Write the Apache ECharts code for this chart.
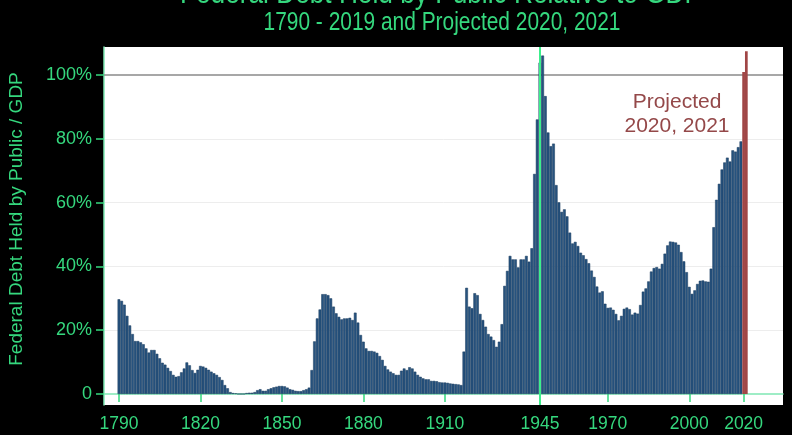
<!DOCTYPE html>
<html><head><meta charset="utf-8">
<script src="https://cdn.jsdelivr.net/npm/echarts@6/dist/echarts.min.js"></script>
<style>html,body{margin:0;padding:0;background:#000}#c{width:792px;height:435px}</style>
</head><body><div id="c"></div>
<script>
// ---- data (percent of GDP) ----
const firstYear = 1790;
const debtPct = [
  29.7, 29.2, 28.0, 24.5, 21.5, 18.8, 16.6, 16.6, 16.2, 15.6,
  14.3, 13.0, 13.8, 13.8, 12.6, 11.2, 9.8, 9.2, 8.2, 7.2,
  6.0, 5.4, 5.6, 6.8, 8.0, 9.9, 9.0, 7.5, 6.6, 7.6,
  8.8, 8.6, 8.2, 7.6, 7.0, 6.5, 6.0, 5.3, 4.4, 2.8,
  1.8, 0.6, 0.3, 0.2, 0, 0, 0, 0.3, 0.4, 0.4,
  0.6, 1.2, 1.5, 1.0, 1.0, 1.5, 1.8, 2.1, 2.3, 2.5,
  2.5, 2.4, 2.0, 1.5, 1.3, 1.0, 0.9, 0.9, 1.2, 1.5,
  2.0, 7.5, 16.5, 23.7, 26.5, 31.3, 31.3, 31.0, 30.0, 27.4,
  25.3, 24.2, 23.4, 23.7, 23.7, 23.9, 23.2, 25.5, 22.4, 18.5,
  16.4, 14.3, 13.5, 13.5, 13.3, 12.9, 11.9, 10.7, 8.8, 7.7,
  7.0, 6.5, 6.0, 6.0, 7.3, 8.0, 7.5, 8.4, 8.0, 7.0,
  6.0, 5.4, 4.9, 4.6, 4.6, 4.1, 4.1, 4.0, 3.7, 3.6,
  3.6, 3.5, 3.3, 3.2, 3.1, 3.0, 2.8, 13.3, 33.3, 27.4,
  26.9, 31.6, 31.0, 25.1, 23.2, 21.1, 18.8, 18.0, 16.9, 14.8,
  16.4, 21.9, 33.9, 38.6, 43.3, 42.2, 42.2, 39.7, 42.2, 42.2,
  43.3, 41.5, 45.7, 69.0, 86.1, 103.9, 106.1, 93.4, 82.0, 77.7,
  78.5, 65.5, 60.1, 57.1, 57.9, 55.7, 50.6, 47.2, 47.7, 46.4,
  44.3, 43.5, 42.3, 41.0, 38.7, 36.7, 33.7, 31.8, 32.2, 28.3,
  27.0, 27.1, 26.4, 25.1, 23.1, 24.5, 26.7, 27.1, 26.6, 24.9,
  25.5, 25.2, 27.9, 32.1, 33.1, 35.3, 38.4, 39.5, 39.8, 39.3,
  40.8, 44.0, 46.6, 47.8, 47.7, 47.5, 46.8, 44.5, 41.6, 38.2,
  33.6, 31.4, 32.5, 34.5, 35.5, 35.6, 35.3, 35.2, 39.3, 52.3,
  60.9, 65.9, 70.4, 72.6, 74.1, 72.9, 76.4, 76.0, 77.4, 79.2
];
const projYears = [2020, 2021];
const projPct = [101.0, 107.5];
const axisFirstYear = 1785;
const axisLastYear = 2034;
const xTickYears = [1790, 1820, 1850, 1880, 1910, 1945, 1970, 2000, 2020];
const yTickValues = [0, 20, 40, 60, 80, 100];
const markYear = 1945;
const refLevel = 100;

// ---- build ----
const categories = [];
for (let y = axisFirstYear; y <= axisLastYear; y++) categories.push(String(y));
const actualData = categories.map(c => {
  const i = +c - firstYear;
  return (i >= 0 && i < debtPct.length) ? debtPct[i] : '-';
});
const projData = categories.map(c => {
  const i = projYears.indexOf(+c);
  return i >= 0 ? projPct[i] : '-';
});
const tickSet = new Set(xTickYears.map(String));
const GREEN = '#35d87e';
const AXIS = '#7fe8b4';
const SANS = "'Liberation Sans',Arial,sans-serif";

const chart = echarts.init(document.getElementById('c'), null, {renderer: 'canvas'});
chart.setOption({
  backgroundColor: '#000',
  animation: false,
  grid: {left: 104, right: 9, top: 47, bottom: 30, show: true, backgroundColor: '#ffffff', borderWidth: 0,
    containLabel: false, outerBoundsMode: 'none'},
  xAxis: {
    type: 'category',
    data: categories,
    boundaryGap: true,
    axisLine: {lineStyle: {color: AXIS, width: 1.5}},
    axisTick: {show: true, alignWithLabel: true, length: 8, interval: (i, v) => tickSet.has(v), lineStyle: {color: GREEN, width: 1.5}},
    axisLabel: {interval: (i, v) => tickSet.has(v), color: GREEN, fontSize: 17.5, fontFamily: SANS, margin: 10},
    splitLine: {show: false}
  },
  yAxis: {
    type: 'value',
    min: -3.45,
    max: 108.8,
    axisLine: {show: true, lineStyle: {color: AXIS, width: 1.5}},
    axisTick: {show: true, length: 8, customValues: yTickValues, lineStyle: {color: GREEN, width: 1.5}},
    axisLabel: {customValues: yTickValues, color: GREEN, fontSize: 18, fontFamily: SANS, margin: 12,
      formatter: v => v === 0 ? '0' : v + '%'},
    splitLine: {show: true, showMinLine: false, showMaxLine: false, lineStyle: {color: '#ededed', width: 1}}
  },
  series: [
    {
      type: 'bar', name: 'Actual', data: actualData,
      barCategoryGap: '0%', barGap: '-100%', z: 2,
      itemStyle: {color: '#27537f', borderColor: '#183a5c', borderWidth: 0.5},
      markLine: {silent: true, symbol: 'none', z: 1, label: {show: false},
        lineStyle: {color: '#8a8a8a', width: 1.5, type: 'solid'}, data: [{yAxis: refLevel}]}
    },
    {
      type: 'bar', name: 'Projected', data: projData,
      barCategoryGap: '0%', barGap: '-100%', z: 2,
      itemStyle: {color: '#a04646'},
      markLine: {silent: true, symbol: 'none', z: 10, label: {show: false},
        lineStyle: {color: '#3cee8c', width: 2, type: 'solid'}, data: [{xAxis: String(markYear)}]}
    }
  ],
  graphic: [
    {type: 'text', x: 441, y: -6, scaleX: 0.82, style: {text: 'Federal Debt Held by Public Relative to GDP', fill: GREEN,
      font: '32px ' + SANS, textAlign: 'center', textVerticalAlign: 'middle'}},
    {type: 'text', x: 442, y: 23, scaleX: 0.82, style: {text: '1790 - 2019 and Projected 2020, 2021', fill: GREEN,
      font: '25.5px ' + SANS, textAlign: 'center', textVerticalAlign: 'middle'}},
    {type: 'text', x: 17, y: 219, rotation: Math.PI / 2, style: {text: 'Federal Debt Held by Public / GDP', fill: GREEN,
      font: '19px ' + SANS, textAlign: 'center', textVerticalAlign: 'middle'}},
    {type: 'text', x: 677, y: 114, z: 20, style: {text: 'Projected\n2020, 2021', fill: '#944849',
      font: '21px ' + SANS, lineHeight: 24.5, textAlign: 'center', textVerticalAlign: 'middle'}}
  ]
});
</script>
</body></html>
